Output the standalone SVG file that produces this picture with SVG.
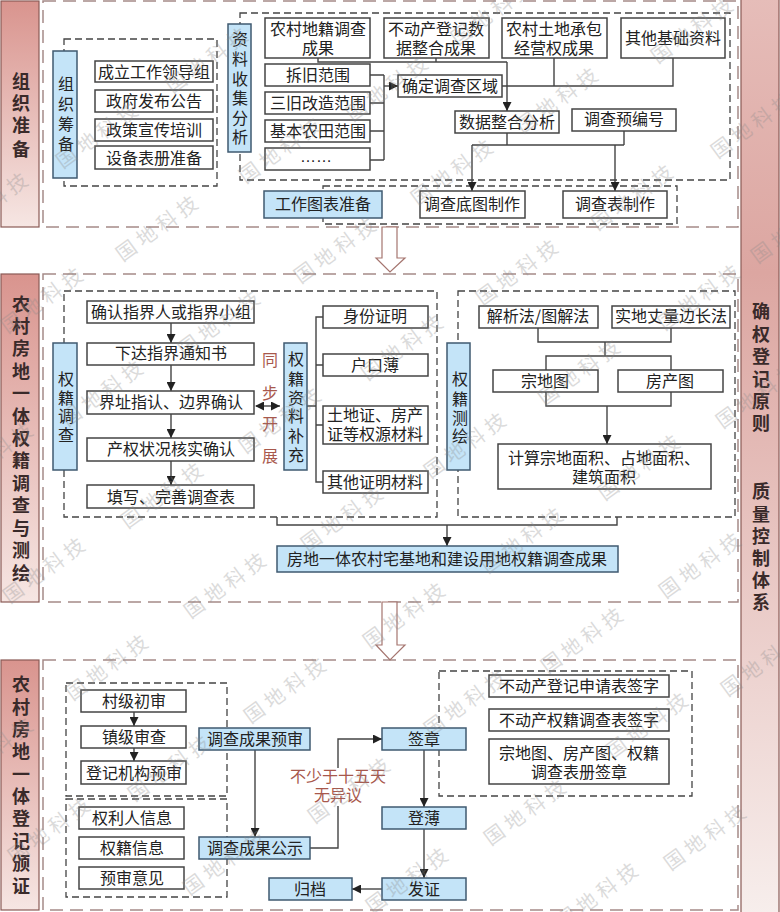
<svg xmlns="http://www.w3.org/2000/svg" width="780" height="912" viewBox="0 0 780 912">
<style>
text{font-family:"Noto Sans CJK SC","Liberation Sans",sans-serif;font-size:16px;fill:#222;text-anchor:middle;dominant-baseline:central}
.b{fill:#fff;stroke:#444;stroke-width:1.5}
.p{fill:#c4e4f8;stroke:#3f5a70;stroke-width:1.5}
.d{fill:none;stroke:#444;stroke-width:1.3;stroke-dasharray:7 4}
.o{fill:none;stroke:#a58a88;stroke-width:1.5;stroke-dasharray:13 7}
.c{fill:none;stroke:#444;stroke-width:1.4}
.a{marker-end:url(#ah)}
.s{fill:#fff;stroke:#a5756f;stroke-width:1.2}
.l{fill:url(#gl);stroke:#8a5a55;stroke-width:1.2}
.t{font-weight:700;font-size:18px;fill:#3a2a2a}
.r{fill:#a8584c}
.w{font-size:20px;letter-spacing:5px;fill:#8a8a8a;opacity:.3;font-weight:400}
</style>
<defs>
<marker id="ah" markerWidth="10" markerHeight="9" refX="9" refY="4.5" orient="auto" markerUnits="userSpaceOnUse"><path d="M0 0L9 4.5L0 9Z" fill="#222"/></marker>
<marker id="ahs" markerWidth="10" markerHeight="9" refX="1" refY="4.5" orient="auto" markerUnits="userSpaceOnUse"><path d="M9 0L0 4.5L9 9Z" fill="#222"/></marker>
<linearGradient id="gl" x1="0" y1="0" x2="0" y2="1"><stop offset="0" stop-color="#d9948e"/><stop offset="1" stop-color="#f6e6e3"/></linearGradient>
<linearGradient id="gr" x1="0" y1="0" x2="0" y2="1"><stop offset="0" stop-color="#e6bdb9"/><stop offset=".3" stop-color="#dca6a1"/><stop offset="1" stop-color="#f7eeec"/></linearGradient>
</defs>

<g id="frames">
<rect class="o" x="43" y="1" width="695" height="226"/>
<rect class="o" x="43" y="274" width="695" height="328"/>
<rect class="o" x="43" y="660" width="695" height="250"/>
<rect class="d" x="64" y="39" width="153" height="147"/>
<rect class="d" x="240" y="13" width="490" height="167"/>
<rect class="d" x="323" y="186" width="354" height="38"/>
<rect class="d" x="64" y="291" width="373" height="226"/>
<rect class="d" x="458" y="291" width="277" height="226"/>
<rect class="d" x="66" y="683" width="161" height="113"/>
<rect class="d" x="66" y="799" width="161" height="98"/>
<rect class="d" x="439" y="671" width="253" height="125"/>
</g>

<g id="side-1"><rect class="l" x="1" y="1" width="38" height="226"/><text class="t" x="21"><tspan x="21" y="80">组</tspan><tspan x="21" y="102">织</tspan><tspan x="21" y="124">准</tspan><tspan x="21" y="148">备</tspan></text></g>
<g id="side-2"><rect class="l" x="1" y="274" width="38" height="328"/><text class="t"><tspan x="21" y="303">农</tspan><tspan x="21" y="325">村</tspan><tspan x="21" y="347">房</tspan><tspan x="21" y="370">地</tspan><tspan x="21" y="392">一</tspan><tspan x="21" y="415">体</tspan><tspan x="21" y="437">权</tspan><tspan x="21" y="459">籍</tspan><tspan x="21" y="482">调</tspan><tspan x="21" y="504">查</tspan><tspan x="21" y="527">与</tspan><tspan x="21" y="549">测</tspan><tspan x="21" y="572">绘</tspan></text></g>
<g id="side-3"><rect class="l" x="1" y="660" width="38" height="250"/><text class="t"><tspan x="21" y="683">农</tspan><tspan x="21" y="706">村</tspan><tspan x="21" y="728">房</tspan><tspan x="21" y="750">地</tspan><tspan x="21" y="773">一</tspan><tspan x="21" y="795">体</tspan><tspan x="21" y="817">登</tspan><tspan x="21" y="840">记</tspan><tspan x="21" y="862">颁</tspan><tspan x="21" y="885">证</tspan></text></g>
<g id="side-right"><rect x="741" y="-2" width="38" height="916" fill="url(#gr)" stroke="#8a5a55" stroke-width="1.2"/><text class="t"><tspan x="761" y="310">确</tspan><tspan x="761" y="333">权</tspan><tspan x="761" y="355">登</tspan><tspan x="761" y="378">记</tspan><tspan x="761" y="400">原</tspan><tspan x="761" y="422">则</tspan><tspan x="761" y="490">质</tspan><tspan x="761" y="513">量</tspan><tspan x="761" y="535">控</tspan><tspan x="761" y="557">制</tspan><tspan x="761" y="579">体</tspan><tspan x="761" y="601">系</tspan></text></g>

<g id="connectors">
<path class="c" d="M318 58V62H507M436 58V62"/>
<path class="c a" d="M507 62V111"/>
<path class="c" d="M370 75H384M370 103H384M370 131H384M370 160H384M384 75V160"/>
<path class="c a" d="M384 86H398"/>
<path class="c" d="M502 86H673V58M554 86V58"/>
<path class="c" d="M507 133V145M624 131V145M472 145H624"/>
<path class="c a" d="M472 145V191"/>
<path class="c a" d="M615 145V191"/>
<path class="c a" d="M171 323V343"/>
<path class="c a" d="M171 365V391"/>
<path class="c a" d="M171 414V438"/>
<path class="c a" d="M171 461V485"/>
<path class="c" d="M256 406H280" style="marker-start:url(#ahs);marker-end:url(#ah)"/>
<path class="c" d="M307 406H316M323 317H316V482H323M316 365H323M316 425H323"/>
<path class="c" d="M538 328V342H671V328M605 342V356M546 370V356H671V370M546 392V406H671V392"/>
<path class="c a" d="M607 406V444"/>
<path class="c" d="M277 517V525H617V517"/>
<path class="c a" d="M447 525V546"/>
<path class="c a" d="M134 712V726"/>
<path class="c a" d="M134 748V761"/>
<path class="c a" d="M255 750V837"/>
<path class="c a" d="M310 848H338V739H382"/>
<path class="c a" d="M424 750V807"/>
<path class="c a" d="M424 829V878"/>
<path class="c a" d="M382 889H352"/>
</g>

<g id="arrow-1"><path class="s" d="M382 227H397V258H405L390 272L376 258H382Z"/></g>
<g id="arrow-2"><path class="s" d="M382 602H397V645H405L390 660L376 645H382Z"/></g>

<g id="n-zuzhi"><rect class="p" x="53" y="51" width="24" height="127"/><text><tspan x="66" y="83">组</tspan><tspan x="66" y="103">织</tspan><tspan x="66" y="123">筹</tspan><tspan x="66" y="143">备</tspan></text></g>
<g id="n-a1"><rect class="b" x="95" y="61" width="118" height="21"/><text x="154" y="71">成立工作领导组</text></g>
<g id="n-a2"><rect class="b" x="95" y="90" width="118" height="22"/><text x="154" y="100">政府发布公告</text></g>
<g id="n-a3"><rect class="b" x="95" y="119" width="118" height="22"/><text x="154" y="129">政策宣传培训</text></g>
<g id="n-a4"><rect class="b" x="95" y="146" width="118" height="23"/><text x="154" y="157">设备表册准备</text></g>
<g id="n-ziliao"><rect class="p" x="228" y="24" width="23" height="128"/><text><tspan x="240" y="38">资</tspan><tspan x="240" y="58">料</tspan><tspan x="240" y="78">收</tspan><tspan x="240" y="97">集</tspan><tspan x="240" y="117">分</tspan><tspan x="240" y="136">析</tspan></text></g>
<g id="n-b1"><rect class="b" x="265" y="18" width="105" height="40"/><text><tspan x="318" y="28">农村地籍调查</tspan><tspan x="318" y="47">成果</tspan></text></g>
<g id="n-b2"><rect class="b" x="384" y="18" width="105" height="40"/><text><tspan x="436" y="28">不动产登记数</tspan><tspan x="436" y="47">据整合成果</tspan></text></g>
<g id="n-b3"><rect class="b" x="502" y="18" width="105" height="40"/><text><tspan x="554" y="28">农村土地承包</tspan><tspan x="554" y="47">经营权成果</tspan></text></g>
<g id="n-b4"><rect class="b" x="621" y="18" width="104" height="40"/><text x="673" y="37">其他基础资料</text></g>
<g id="n-c1"><rect class="b" x="265" y="64" width="105" height="22"/><text x="318" y="74">拆旧范围</text></g>
<g id="n-c2"><rect class="b" x="265" y="92" width="105" height="22"/><text x="318" y="102">三旧改造范围</text></g>
<g id="n-c3"><rect class="b" x="265" y="120" width="105" height="22"/><text x="318" y="130">基本农田范围</text></g>
<g id="n-c4"><rect class="b" x="265" y="148" width="105" height="22"/><text x="316" y="156" style="font-family:'Liberation Sans',sans-serif">……</text></g>
<g id="n-d1"><rect class="b" x="398" y="75" width="104" height="22"/><text x="450" y="85">确定调查区域</text></g>
<g id="n-d2"><rect class="b" x="455" y="111" width="104" height="22"/><text x="507" y="121">数据整合分析</text></g>
<g id="n-d3"><rect class="b" x="572" y="109" width="104" height="22"/><text x="624" y="118">调查预编号</text></g>
<g id="n-e1"><rect class="p" x="264" y="191" width="118" height="27"/><text x="323" y="203">工作图表准备</text></g>
<g id="n-e2"><rect class="b" x="420" y="191" width="105" height="27"/><text x="472" y="203">调查底图制作</text></g>
<g id="n-e3"><rect class="b" x="563" y="191" width="104" height="27"/><text x="615" y="203">调查表制作</text></g>

<g id="n-qjdc"><rect class="p" x="53" y="343" width="24" height="127"/><text><tspan x="66" y="378">权</tspan><tspan x="66" y="397">籍</tspan><tspan x="66" y="415">调</tspan><tspan x="66" y="434">查</tspan></text></g>
<g id="n-f1"><rect class="b" x="87" y="301" width="167" height="22"/><text x="171" y="311">确认指界人或指界小组</text></g>
<g id="n-f2"><rect class="b" x="87" y="343" width="167" height="22"/><text x="171" y="352">下达指界通知书</text></g>
<g id="n-f3"><rect class="b" x="87" y="391" width="167" height="23"/><text x="171" y="401">界址指认、边界确认</text></g>
<g id="n-f4"><rect class="b" x="87" y="438" width="167" height="23"/><text x="171" y="448">产权状况核实确认</text></g>
<g id="n-f5"><rect class="b" x="87" y="485" width="167" height="23"/><text x="171" y="496">填写、完善调查表</text></g>
<g id="label-tb"><text class="r"><tspan x="270" y="359">同</tspan><tspan x="270" y="392">步</tspan><tspan x="270" y="423">开</tspan><tspan x="270" y="455">展</tspan></text></g>
<g id="n-qjzl"><rect class="p" x="284" y="343" width="23" height="127"/><text><tspan x="296" y="358">权</tspan><tspan x="296" y="378">籍</tspan><tspan x="296" y="397">资</tspan><tspan x="296" y="415">料</tspan><tspan x="296" y="435">补</tspan><tspan x="296" y="454">充</tspan></text></g>
<g id="n-g1"><rect class="b" x="323" y="306" width="105" height="22"/><text x="375" y="315">身份证明</text></g>
<g id="n-g2"><rect class="b" x="323" y="354" width="105" height="22"/><text x="375" y="364">户口薄</text></g>
<g id="n-g3"><rect class="b" x="323" y="406" width="105" height="38"/><text><tspan x="375" y="414">土地证、房产</tspan><tspan x="375" y="433">证等权源材料</tspan></text></g>
<g id="n-g4"><rect class="b" x="323" y="471" width="105" height="22"/><text x="375" y="481">其他证明材料</text></g>
<g id="n-qjch"><rect class="p" x="447" y="343" width="23" height="127"/><text><tspan x="460" y="378">权</tspan><tspan x="460" y="398">籍</tspan><tspan x="460" y="417">测</tspan><tspan x="460" y="435">绘</tspan></text></g>
<g id="n-h1"><rect class="b" x="479" y="306" width="119" height="22"/><text x="538" y="315">解析法/图解法</text></g>
<g id="n-h2"><rect class="b" x="612" y="306" width="118" height="22"/><text x="671" y="315">实地丈量边长法</text></g>
<g id="n-h3"><rect class="b" x="493" y="370" width="105" height="22"/><text x="545" y="380">宗地图</text></g>
<g id="n-h4"><rect class="b" x="618" y="370" width="105" height="22"/><text x="670" y="380">房产图</text></g>
<g id="n-h5"><rect class="b" x="498" y="444" width="213" height="45"/><text><tspan x="604" y="457">计算宗地面积、占地面积、</tspan><tspan x="604" y="476">建筑面积</tspan></text></g>
<g id="n-result"><rect class="p" x="277" y="546" width="341" height="26"/><text x="447" y="558">房地一体农村宅基地和建设用地权籍调查成果</text></g>

<g id="n-i1"><rect class="b" x="81" y="690" width="105" height="22"/><text x="134" y="700">村级初审</text></g>
<g id="n-i2"><rect class="b" x="81" y="726" width="105" height="22"/><text x="134" y="736">镇级审查</text></g>
<g id="n-i3"><rect class="b" x="81" y="761" width="105" height="23"/><text x="134" y="772">登记机构预审</text></g>
<g id="n-j1"><rect class="b" x="79" y="807" width="105" height="22"/><text x="132" y="817">权利人信息</text></g>
<g id="n-j2"><rect class="b" x="79" y="837" width="105" height="22"/><text x="132" y="847">权籍信息</text></g>
<g id="n-j3"><rect class="b" x="79" y="867" width="105" height="22"/><text x="132" y="877">预审意见</text></g>
<g id="n-k1"><rect class="p" x="199" y="728" width="111" height="22"/><text x="255" y="738">调查成果预审</text></g>
<g id="n-k2"><rect class="p" x="199" y="837" width="111" height="22"/><text x="255" y="847">调查成果公示</text></g>
<g id="label-15"><rect x="290" y="768" width="96" height="38" fill="#fff"/><text class="r"><tspan x="338" y="775">不少于十五天</tspan><tspan x="338" y="794">无异议</tspan></text></g>
<g id="n-m1"><rect class="p" x="382" y="728" width="84" height="22"/><text x="424" y="738">签章</text></g>
<g id="n-m2"><rect class="p" x="382" y="807" width="84" height="22"/><text x="424" y="817">登薄</text></g>
<g id="n-m3"><rect class="p" x="382" y="878" width="84" height="22"/><text x="424" y="888">发证</text></g>
<g id="n-m4"><rect class="p" x="269" y="878" width="83" height="22"/><text x="310" y="888">归档</text></g>
<g id="n-o1"><rect class="b" x="489" y="675" width="180" height="22"/><text x="579" y="685">不动产登记申请表签字</text></g>
<g id="n-o2"><rect class="b" x="489" y="709" width="180" height="22"/><text x="579" y="719">不动产权籍调查表签字</text></g>
<g id="n-o3"><rect class="b" x="489" y="739" width="180" height="45"/><text><tspan x="579" y="752">宗地图、房产图、权籍</tspan><tspan x="579" y="771">调查表册签章</tspan></text></g>

<g id="watermarks" transform="translate(3,-2)">
<text class="w" transform="translate(155,228) rotate(-36)">国地科技</text>
<text class="w" transform="translate(333,250) rotate(-36)">国地科技</text>
<text class="w" transform="translate(515,272) rotate(-36)">国地科技</text>
<text class="w" transform="translate(-15,205) rotate(-36)">国地科技</text>
<text class="w" transform="translate(95,135) rotate(-36)">国地科技</text>
<text class="w" transform="translate(205,60) rotate(-36)">国地科技</text>
<text class="w" transform="translate(278,150) rotate(-36)">国地科技</text>
<text class="w" transform="translate(385,88) rotate(-36)">国地科技</text>
<text class="w" transform="translate(450,172) rotate(-36)">国地科技</text>
<text class="w" transform="translate(555,100) rotate(-36)">国地科技</text>
<text class="w" transform="translate(490,12) rotate(-36)">国地科技</text>
<text class="w" transform="translate(690,30) rotate(-36)">国地科技</text>
<text class="w" transform="translate(750,125) rotate(-36)">国地科技</text>
<text class="w" transform="translate(630,197) rotate(-36)">国地科技</text>
<text class="w" transform="translate(790,230) rotate(-36)">国地科技</text>
<text class="w" transform="translate(40,300) rotate(-36)">国地科技</text>
<text class="w" transform="translate(100,393) rotate(-36)">国地科技</text>
<text class="w" transform="translate(217,323) rotate(-36)">国地科技</text>
<text class="w" transform="translate(160,495) rotate(-36)">国地科技</text>
<text class="w" transform="translate(278,420) rotate(-36)">国地科技</text>
<text class="w" transform="translate(400,347) rotate(-36)">国地科技</text>
<text class="w" transform="translate(42,570) rotate(-36)">国地科技</text>
<text class="w" transform="translate(340,518) rotate(-36)">国地科技</text>
<text class="w" transform="translate(223,585) rotate(-36)">国地科技</text>
<text class="w" transform="translate(577,372) rotate(-36)">国地科技</text>
<text class="w" transform="translate(697,297) rotate(-36)">国地科技</text>
<text class="w" transform="translate(755,395) rotate(-36)">国地科技</text>
<text class="w" transform="translate(637,467) rotate(-36)">国地科技</text>
<text class="w" transform="translate(463,445) rotate(-36)">国地科技</text>
<text class="w" transform="translate(520,540) rotate(-36)">国地科技</text>
<text class="w" transform="translate(698,565) rotate(-36)">国地科技</text>
<text class="w" transform="translate(-10,455) rotate(-36)">国地科技</text>
<text class="w" transform="translate(105,667) rotate(-36)">国地科技</text>
<text class="w" transform="translate(283,690) rotate(-36)">国地科技</text>
<text class="w" transform="translate(402,615) rotate(-36)">国地科技</text>
<text class="w" transform="translate(580,640) rotate(-36)">国地科技</text>
<text class="w" transform="translate(760,663) rotate(-36)">国地科技</text>
<text class="w" transform="translate(47,830) rotate(-36)">国地科技</text>
<text class="w" transform="translate(167,768) rotate(-36)">国地科技</text>
<text class="w" transform="translate(222,862) rotate(-36)">国地科技</text>
<text class="w" transform="translate(347,790) rotate(-36)">国地科技</text>
<text class="w" transform="translate(463,703) rotate(-36)">国地科技</text>
<text class="w" transform="translate(645,725) rotate(-36)">国地科技</text>
<text class="w" transform="translate(523,812) rotate(-36)">国地科技</text>
<text class="w" transform="translate(703,837) rotate(-36)">国地科技</text>
<text class="w" transform="translate(405,880) rotate(-36)">国地科技</text>
<text class="w" transform="translate(595,895) rotate(-36)">国地科技</text>
<text class="w" transform="translate(-10,750) rotate(-36)">国地科技</text>
</g>
</svg>
